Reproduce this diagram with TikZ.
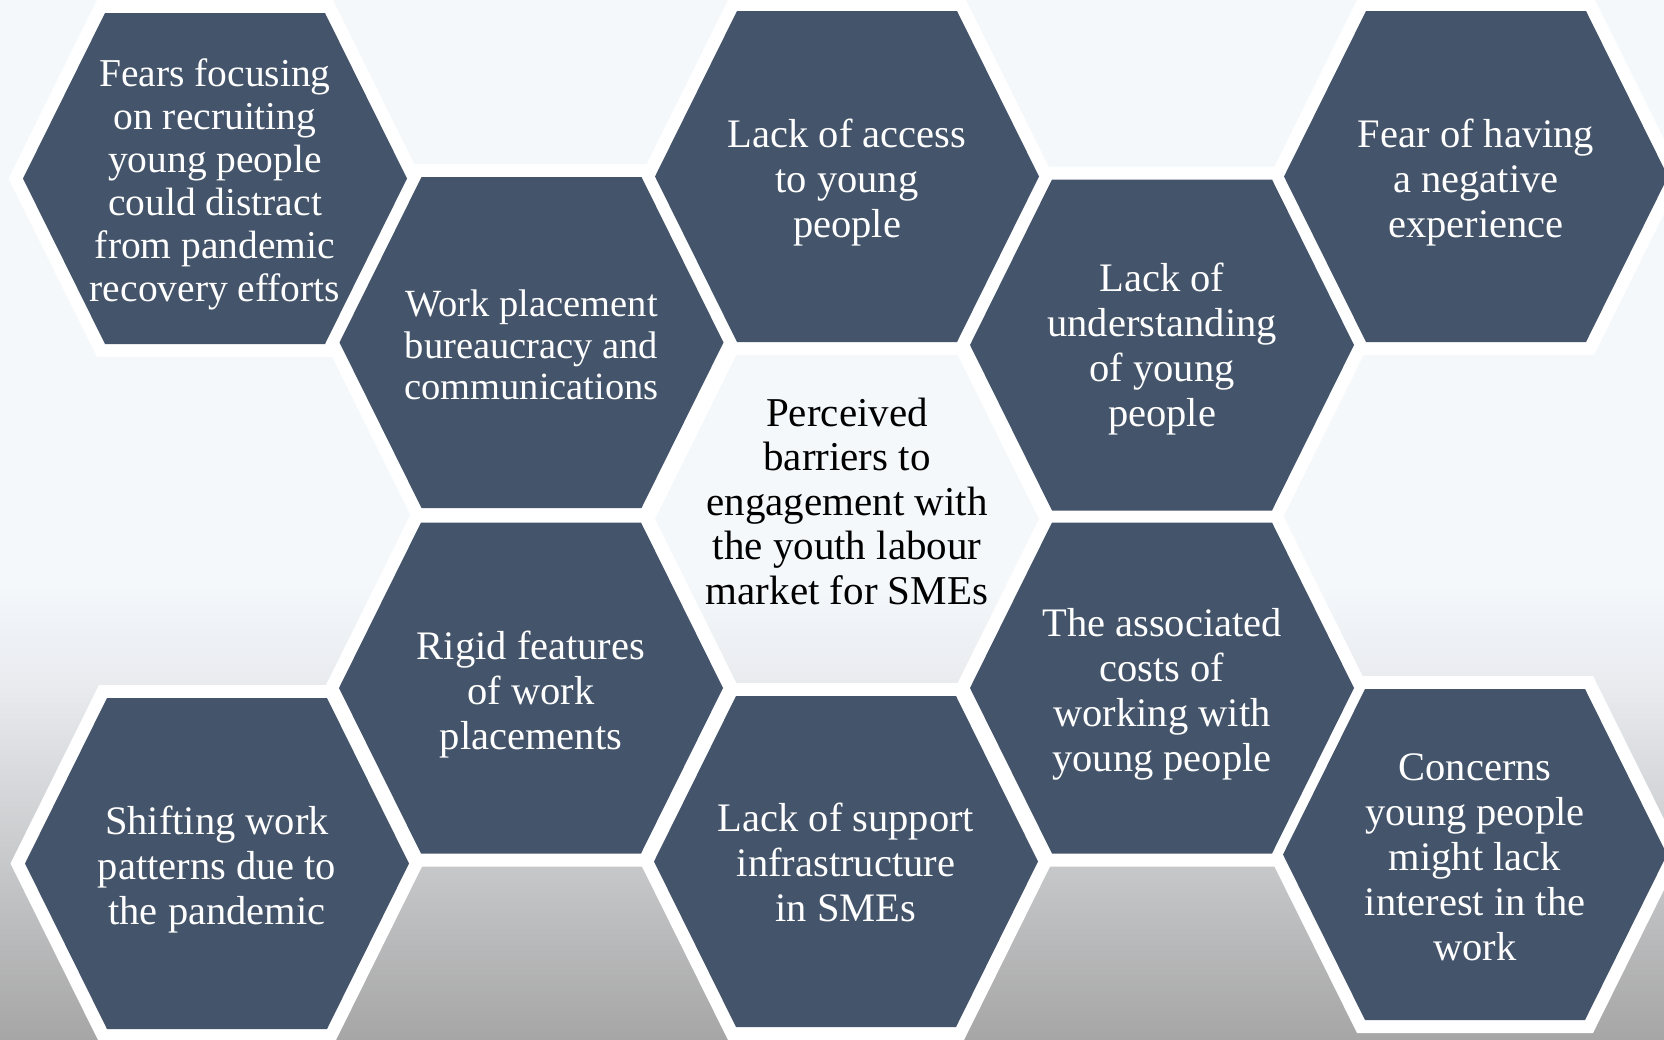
\documentclass[tikz,border=0pt]{standalone}
\usepackage{fontspec}
\setmainfont{Liberation Serif}
\definecolor{cellblue}{HTML}{44546A}
\definecolor{bgtop}{HTML}{F4F8FB}
\definecolor{bgmid}{HTML}{E8EAEE}
\definecolor{bgbot}{HTML}{A6A6A6}
\newcommand\outerhex{(-206.5,0) -- (-118,-178.5) -- (118,-178.5) -- (206.5,0) -- (118,178.5) -- (-118,178.5) -- cycle}
\newcommand\innerhex{(-192,0) -- (-110,-165.5) -- (110,-165.5) -- (192,0) -- (110,165.5) -- (-110,165.5) -- cycle}
\begin{document}
\begin{tikzpicture}[x=1pt,y=-1pt,
  ring/.style={fill=white},
  cell/.style={fill=cellblue},
  celltext/.style={text=white, align=center, inner sep=0pt, text depth=0pt, font=\fontsize{40.5}{45}\selectfont},
  densetext/.style={celltext, font=\fontsize{39.5}{43}\selectfont},
  smalltext/.style={celltext, font=\fontsize{38.5}{41.5}\selectfont},
  coretext/.style={text=black, align=center, inner sep=0pt, text depth=0pt, font=\fontsize{41}{44.5}\selectfont}]
\useasboundingbox (0,0) rectangle (1664,1039);
\begin{scope}
\clip (0,0) rectangle (1664,1039);
% background
\fill[bgtop] (0,0) rectangle (1664,586);
\shade[top color=bgtop, bottom color=bgmid] (0,585) rectangle (1664,691);
\shade[top color=bgmid, bottom color=bgbot] (0,690) rectangle (1664,1039);
% white rims
\foreach \cx/\cy in {215/178.5, 531.5/342.5, 847/176.5, 1162/345, 1476/176.5,
                     531/688, 1162/688, 217/863.5, 846/861.5, 1475/854.5}
  \fill[ring, shift={(\cx,\cy)}] \outerhex;
% central ring (no fill)
\fill[ring, even odd rule, shift={(847,519)}] \outerhex \innerhex;
% dark cells
\foreach \cx/\cy in {215/178.5, 531.5/342.5, 847/176.5, 1162/345, 1476/176.5,
                     531/688, 1162/688, 217/863.5, 846/861.5, 1475/854.5}
  \fill[cell, shift={(\cx,\cy)}] \innerhex;
\end{scope}
% texts
\node[densetext] (h1) at (215,180) {Fears focusing\\on recruiting\\young people\\could distract\\from pandemic\\recovery efforts};
\node[smalltext] (h2) at (531.5,345) {Work placement\\bureaucracy and\\communications};
\node[celltext] (h3) at (847,178) {Lack of access\\to young\\people};
\node[celltext] (h4) at (1162,345) {Lack of\\understanding\\of young\\people};
\node[celltext] (h5) at (1476,178) {Fear of having\\a negative\\experience};
\node[coretext] (core) at (847,501) {Perceived\\barriers to\\engagement with\\the youth labour\\market for SMEs};
\node[celltext] (h7) at (531,690) {Rigid features\\of work\\placements};
\node[celltext] (h8) at (1162,690) {The associated\\costs of\\working with\\young people};
\node[celltext] (h9) at (217,865) {Shifting work\\patterns due to\\the pandemic};
\node[celltext] (h10) at (846,862) {Lack of support\\infrastructure\\in SMEs};
\node[celltext] (h11) at (1475,857) {Concerns\\young people\\might lack\\interest in the\\work};
\end{tikzpicture}
\end{document}
